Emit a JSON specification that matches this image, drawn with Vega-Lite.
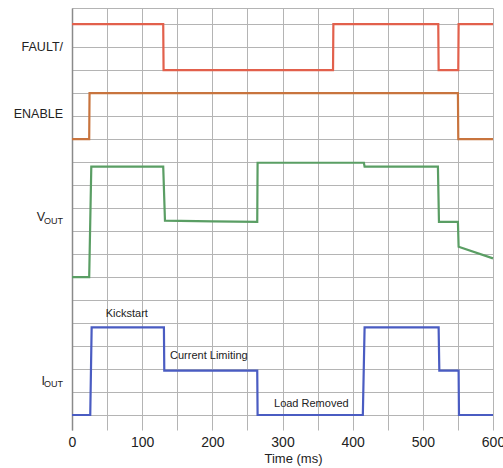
{
  "$schema": "https://vega.github.io/schema/vega-lite/v6.json",
  "width": 421,
  "height": 422,
  "autosize": {"type": "none"},
  "padding": {"left": 72, "top": 8, "right": 10, "bottom": 38},
  "background": "white",
  "config": {"view": {"stroke": null}, "font": "Liberation Sans"},
  "datasets": {
    "signals": [
      {"signal": "FAULT/", "i": 1, "t": 0, "v": 17},
      {"signal": "FAULT/", "i": 2, "t": 130, "v": 17},
      {"signal": "FAULT/", "i": 3, "t": 130.5, "v": 15},
      {"signal": "FAULT/", "i": 4, "t": 372, "v": 15},
      {"signal": "FAULT/", "i": 5, "t": 372.5, "v": 17},
      {"signal": "FAULT/", "i": 6, "t": 522, "v": 17},
      {"signal": "FAULT/", "i": 7, "t": 522.5, "v": 15},
      {"signal": "FAULT/", "i": 8, "t": 550.5, "v": 15},
      {"signal": "FAULT/", "i": 9, "t": 551, "v": 17},
      {"signal": "FAULT/", "i": 10, "t": 600, "v": 17},
      {"signal": "ENABLE", "i": 1, "t": 0, "v": 12},
      {"signal": "ENABLE", "i": 2, "t": 24.5, "v": 12},
      {"signal": "ENABLE", "i": 3, "t": 25, "v": 14},
      {"signal": "ENABLE", "i": 4, "t": 550, "v": 14},
      {"signal": "ENABLE", "i": 5, "t": 550.5, "v": 12},
      {"signal": "ENABLE", "i": 6, "t": 600, "v": 12},
      {"signal": "VOUT", "i": 1, "t": 0, "v": 6},
      {"signal": "VOUT", "i": 2, "t": 24.5, "v": 6},
      {"signal": "VOUT", "i": 3, "t": 27.5, "v": 10.8},
      {"signal": "VOUT", "i": 4, "t": 130, "v": 10.8},
      {"signal": "VOUT", "i": 5, "t": 132.5, "v": 8.45},
      {"signal": "VOUT", "i": 6, "t": 200, "v": 8.42},
      {"signal": "VOUT", "i": 7, "t": 264, "v": 8.4},
      {"signal": "VOUT", "i": 8, "t": 264.5, "v": 10.97},
      {"signal": "VOUT", "i": 9, "t": 416, "v": 10.97},
      {"signal": "VOUT", "i": 10, "t": 417, "v": 10.8},
      {"signal": "VOUT", "i": 11, "t": 521.5, "v": 10.8},
      {"signal": "VOUT", "i": 12, "t": 523, "v": 8.4},
      {"signal": "VOUT", "i": 13, "t": 550, "v": 8.4},
      {"signal": "VOUT", "i": 14, "t": 551, "v": 7.32},
      {"signal": "VOUT", "i": 15, "t": 600, "v": 6.81},
      {"signal": "IOUT", "i": 1, "t": 0, "v": 0},
      {"signal": "IOUT", "i": 2, "t": 26, "v": 0},
      {"signal": "IOUT", "i": 3, "t": 28, "v": 3.81},
      {"signal": "IOUT", "i": 4, "t": 131, "v": 3.81},
      {"signal": "IOUT", "i": 5, "t": 131.5, "v": 1.93},
      {"signal": "IOUT", "i": 6, "t": 264, "v": 1.93},
      {"signal": "IOUT", "i": 7, "t": 264.5, "v": 0},
      {"signal": "IOUT", "i": 8, "t": 414.5, "v": 0},
      {"signal": "IOUT", "i": 9, "t": 417, "v": 3.81},
      {"signal": "IOUT", "i": 10, "t": 522.5, "v": 3.81},
      {"signal": "IOUT", "i": 11, "t": 523.5, "v": 1.93},
      {"signal": "IOUT", "i": 12, "t": 551, "v": 1.93},
      {"signal": "IOUT", "i": 13, "t": 551.5, "v": 0},
      {"signal": "IOUT", "i": 14, "t": 600, "v": 0}
    ],
    "names": [
      {"label": "FAULT/", "t": -12.8, "v": 16.0},
      {"label": "ENABLE", "t": -12.8, "v": 13.1},
      {"label": "V", "t": -38.5, "v": 8.6},
      {"label": "I", "t": -38.5, "v": 1.5}
    ],
    "subs": [
      {"label": "OUT", "t": -12.8, "v": 8.45},
      {"label": "OUT", "t": -12.8, "v": 1.35}
    ],
    "notes": [
      {"label": "Kickstart", "t": 48, "v": 4.39},
      {"label": "Current Limiting", "t": 139.7, "v": 2.58},
      {"label": "Load Removed", "t": 287.9, "v": 0.47}
    ]
  },
  "encoding": {
    "x": {
      "field": "t", "type": "quantitative",
      "scale": {"domain": [0, 600], "nice": false, "zero": false},
      "axis": {
        "values": [0, 50, 100, 150, 200, 250, 300, 350, 400, 450, 500, 550, 600],
        "labelExpr": "datum.value % 100 === 0 ? datum.label : ''",
        "labelOverlap": false,
        "labelFlush": false,
        "ticks": false,
        "domain": false,
        "grid": true,
        "gridColor": "#b4b4b4",
        "gridWidth": 1,
        "labelFont": "Liberation Sans",
        "labelFontSize": 14,
        "labelColor": "#222",
        "labelPadding": 5,
        "title": "Time (ms)",
        "titleFont": "Liberation Sans",
        "titleFontSize": 13,
        "titleFontWeight": "normal",
        "titleColor": "#222",
        "titlePadding": 3,
        "titleX": 221
      }
    },
    "y": {
      "field": "v", "type": "quantitative",
      "scale": {"domain": [-0.652, 17.7], "nice": false, "zero": false},
      "axis": {
        "values": [0, 1, 2, 3, 4, 5, 6, 7, 8, 9, 10, 11, 12, 13, 14, 15, 16, 17, 17.7],
        "labels": false,
        "ticks": false,
        "domain": true,
        "domainColor": "#8a8a8a",
        "domainWidth": 1.5,
        "grid": true,
        "gridColor": "#b4b4b4",
        "gridWidth": 1,
        "title": null
      }
    }
  },
  "layer": [
    {
      "data": {"name": "signals"},
      "mark": {"type": "line", "strokeWidth": 2.2},
      "encoding": {
        "color": {
          "field": "signal", "type": "nominal",
          "scale": {"domain": ["FAULT/", "ENABLE", "VOUT", "IOUT"], "range": ["#e2604c", "#c8743e", "#5a9e64", "#4a5cc2"]},
          "legend": null
        },
        "detail": {"field": "signal"},
        "order": {"field": "i", "type": "quantitative"}
      }
    },
    {
      "data": {"name": "names"},
      "mark": {"type": "text", "align": "right", "baseline": "middle", "font": "Liberation Sans", "fontSize": 12.5, "color": "#222"},
      "encoding": {"text": {"field": "label"}}
    },
    {
      "data": {"name": "subs"},
      "mark": {"type": "text", "align": "right", "baseline": "middle", "font": "Liberation Sans", "fontSize": 9, "color": "#222"},
      "encoding": {"text": {"field": "label"}}
    },
    {
      "data": {"name": "notes"},
      "mark": {"type": "text", "align": "left", "baseline": "middle", "font": "Liberation Sans", "fontSize": 11, "color": "#222"},
      "encoding": {"text": {"field": "label"}}
    }
  ]
}
